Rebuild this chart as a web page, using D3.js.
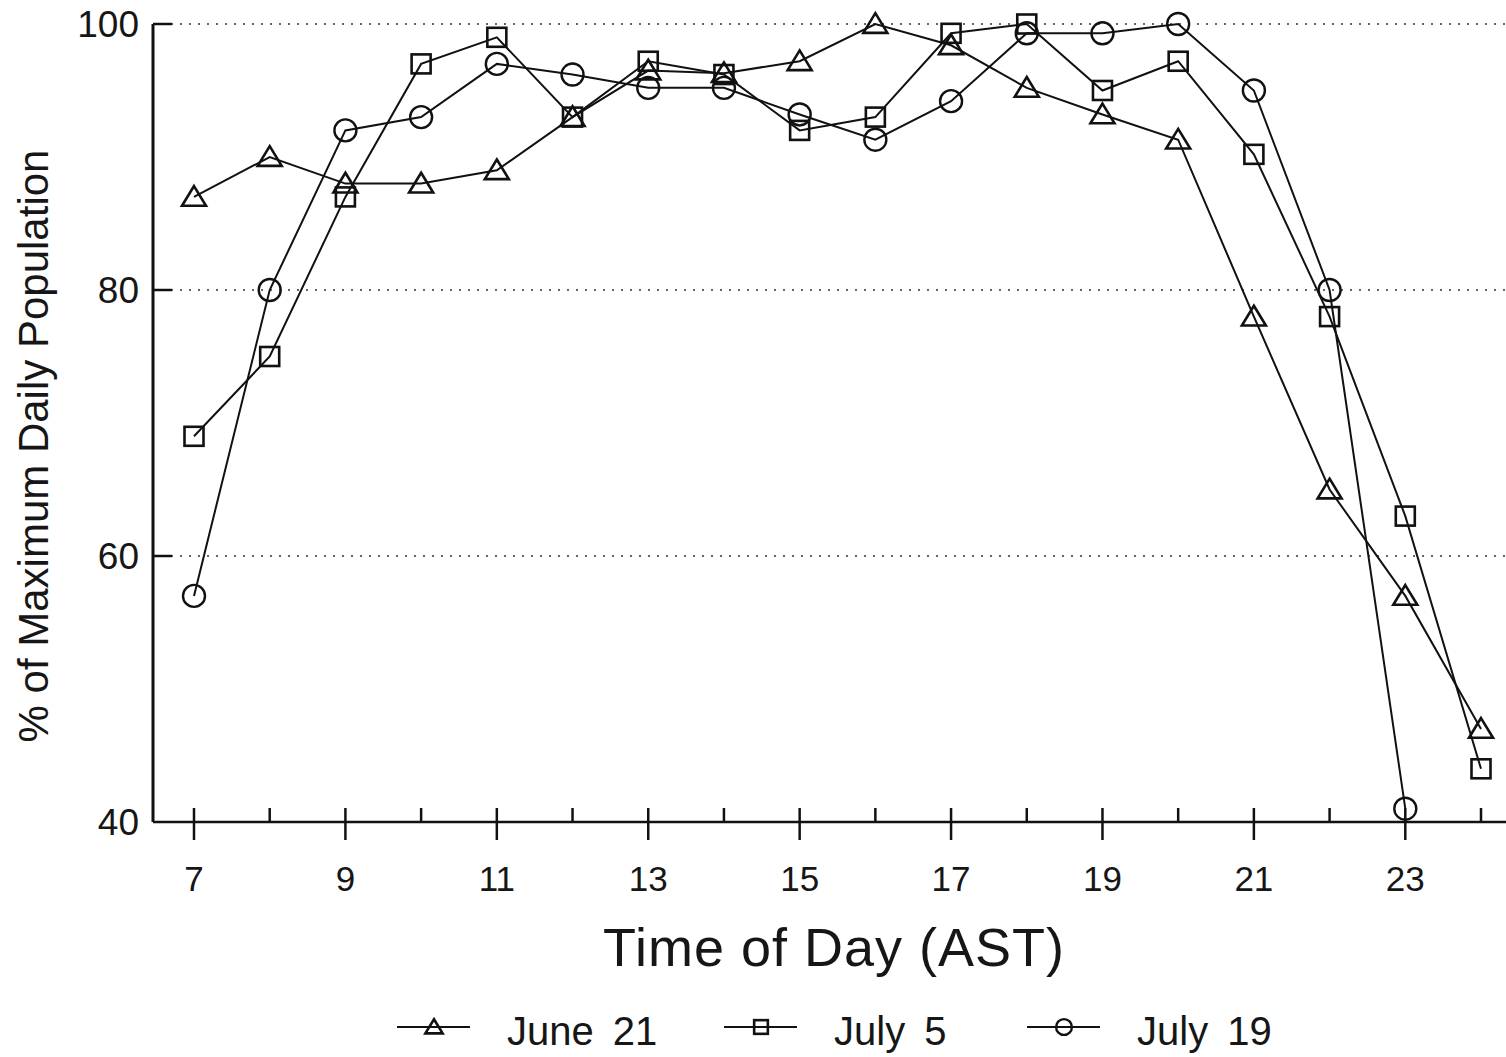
<!DOCTYPE html>
<html>
<head>
<meta charset="utf-8">
<script src="https://cdn.jsdelivr.net/npm/d3@7"></script>
<style>
  body { margin: 0; background: #fff; }
  text { font-family: "Liberation Sans", Arial, sans-serif; fill: #161616; }
</style>
</head>
<body>
<div class="chart"></div>
<script>
// data
var hours = [7, 8, 9, 10, 11, 12, 13, 14, 15, 16, 17, 18, 19, 20, 21, 22, 23, 24];
var june21 = [87, 90, 88, 88, 89, 93, 96.5, 96.3, 97.2, 100, 98.4, 95.2, 93.2, 91.3, 78, 65, 57, 47];
var july5 = [69, 75, 87, 97, 99, 93, 97.2, 96.2, 92, 93, 99.3, 100, 95, 97.2, 90.2, 78, 63, 44];
var july19 = [57, 80, 92, 93, 97, 96.2, 95.2, 95.2, 93.2, 91.3, 94.2, 99.3, 99.3, 100, 95, 80, 41];
var yTicks = [40, 60, 80, 100];
var xLabels = [7, 9, 11, 13, 15, 17, 19, 21, 23];
var seriesNames = ["June 21", "July 5", "July 19"];

var svg = d3.select(".chart").append("svg").attr("width", 1506).attr("height", 1057);

var x = d3.scaleLinear().domain([7, 24]).range([194, 1481]);
var y = d3.scaleLinear().domain([40, 100]).range([822, 24]);
var left = 153, right = 1506;

// gridlines (dotted)
svg.selectAll(".grid").data(yTicks.filter(d => d > 40)).enter().append("line")
    .attr("x1", left + 18).attr("x2", right)
    .attr("y1", d => y(d)).attr("y2", d => y(d))
    .attr("stroke", "#333").attr("stroke-width", 1.6)
    .attr("stroke-dasharray", "2,7");

// y axis
svg.append("line").attr("x1", left).attr("x2", left).attr("y1", y(100)).attr("y2", y(40))
    .attr("stroke", "#111").attr("stroke-width", 3);
svg.selectAll(".ytick").data(yTicks.filter(d => d > 40)).enter().append("line")
    .attr("x1", left).attr("x2", left + 19)
    .attr("y1", d => y(d)).attr("y2", d => y(d))
    .attr("stroke", "#111").attr("stroke-width", 2.5);
svg.selectAll(".ylab").data(yTicks).enter().append("text")
    .attr("x", 139).attr("y", d => y(d) + 13)
    .attr("text-anchor", "end").attr("font-size", 37)
    .text(d => d);

// x axis
svg.append("line").attr("x1", left).attr("x2", right).attr("y1", y(40)).attr("y2", y(40))
    .attr("stroke", "#111").attr("stroke-width", 2.5);
svg.selectAll(".xtick").data(hours).enter().append("line")
    .attr("x1", d => x(d)).attr("x2", d => x(d))
    .attr("y1", y(40) - 14)
    .attr("y2", d => d % 2 == 1 ? y(40) + 18 : y(40))
    .attr("stroke", "#111").attr("stroke-width", 2.5);
svg.selectAll(".xlab").data(xLabels).enter().append("text")
    .attr("x", d => x(d)).attr("y", 891)
    .attr("text-anchor", "middle").attr("font-size", 35)
    .text(d => d);

// axis titles
svg.append("text").attr("x", 834).attr("y", 966)
    .attr("text-anchor", "middle").attr("font-size", 54).attr("letter-spacing", 1)
    .text("Time of Day (AST)");
svg.append("text")
    .attr("transform", "translate(48,446) rotate(-90)")
    .attr("text-anchor", "middle").attr("font-size", 42)
    .text("% of Maximum Daily Population");

// markers
function triangle(g, cx, cy, s) {
    var w = s, h = s * 0.82;
    g.append("path")
        .attr("d", "M" + cx + "," + (cy - h * 0.55) + "L" + (cx + w / 2) + "," + (cy + h * 0.45) +
              "L" + (cx - w / 2) + "," + (cy + h * 0.45) + "Z")
        .attr("fill", "none").attr("stroke", "#111").attr("stroke-width", 2.6);
}
function square(g, cx, cy, s) {
    g.append("rect").attr("x", cx - s / 2).attr("y", cy - s / 2)
        .attr("width", s).attr("height", s)
        .attr("fill", "none").attr("stroke", "#111").attr("stroke-width", 2.6);
}
function circle(g, cx, cy, s) {
    g.append("circle").attr("cx", cx).attr("cy", cy).attr("r", s / 2)
        .attr("fill", "none").attr("stroke", "#111").attr("stroke-width", 2.4);
}

var series = [
    { values: june21, marker: triangle, size: 24 },
    { values: july5, marker: square, size: 19 },
    { values: july19, marker: circle, size: 22 }
];

var line = d3.line().x(d => x(d[0])).y(d => y(d[1]));

series.forEach(function (s) {
    var pts = s.values.map((v, i) => [hours[i], v]);
    svg.append("path").datum(pts).attr("d", line)
        .attr("fill", "none").attr("stroke", "#111").attr("stroke-width", 2);
    var g = svg.append("g");
    pts.forEach(p => s.marker(g, x(p[0]), y(p[1]), s.size));
});

// legend
var legendX = [397, 724, 1027];
seriesNames.forEach(function (name, i) {
    var lx = legendX[i], ly = 1027;
    svg.append("line").attr("x1", lx).attr("x2", lx + 73).attr("y1", ly).attr("y2", ly)
        .attr("stroke", "#111").attr("stroke-width", 2);
    series[i].marker(svg.append("g"), lx + 37, ly, series[i].size * 0.72);
    svg.append("text").attr("x", lx + 110).attr("y", ly + 18)
        .attr("font-size", 40).attr("word-spacing", 8)
        .text(name);
});
</script>
</body>
</html>
